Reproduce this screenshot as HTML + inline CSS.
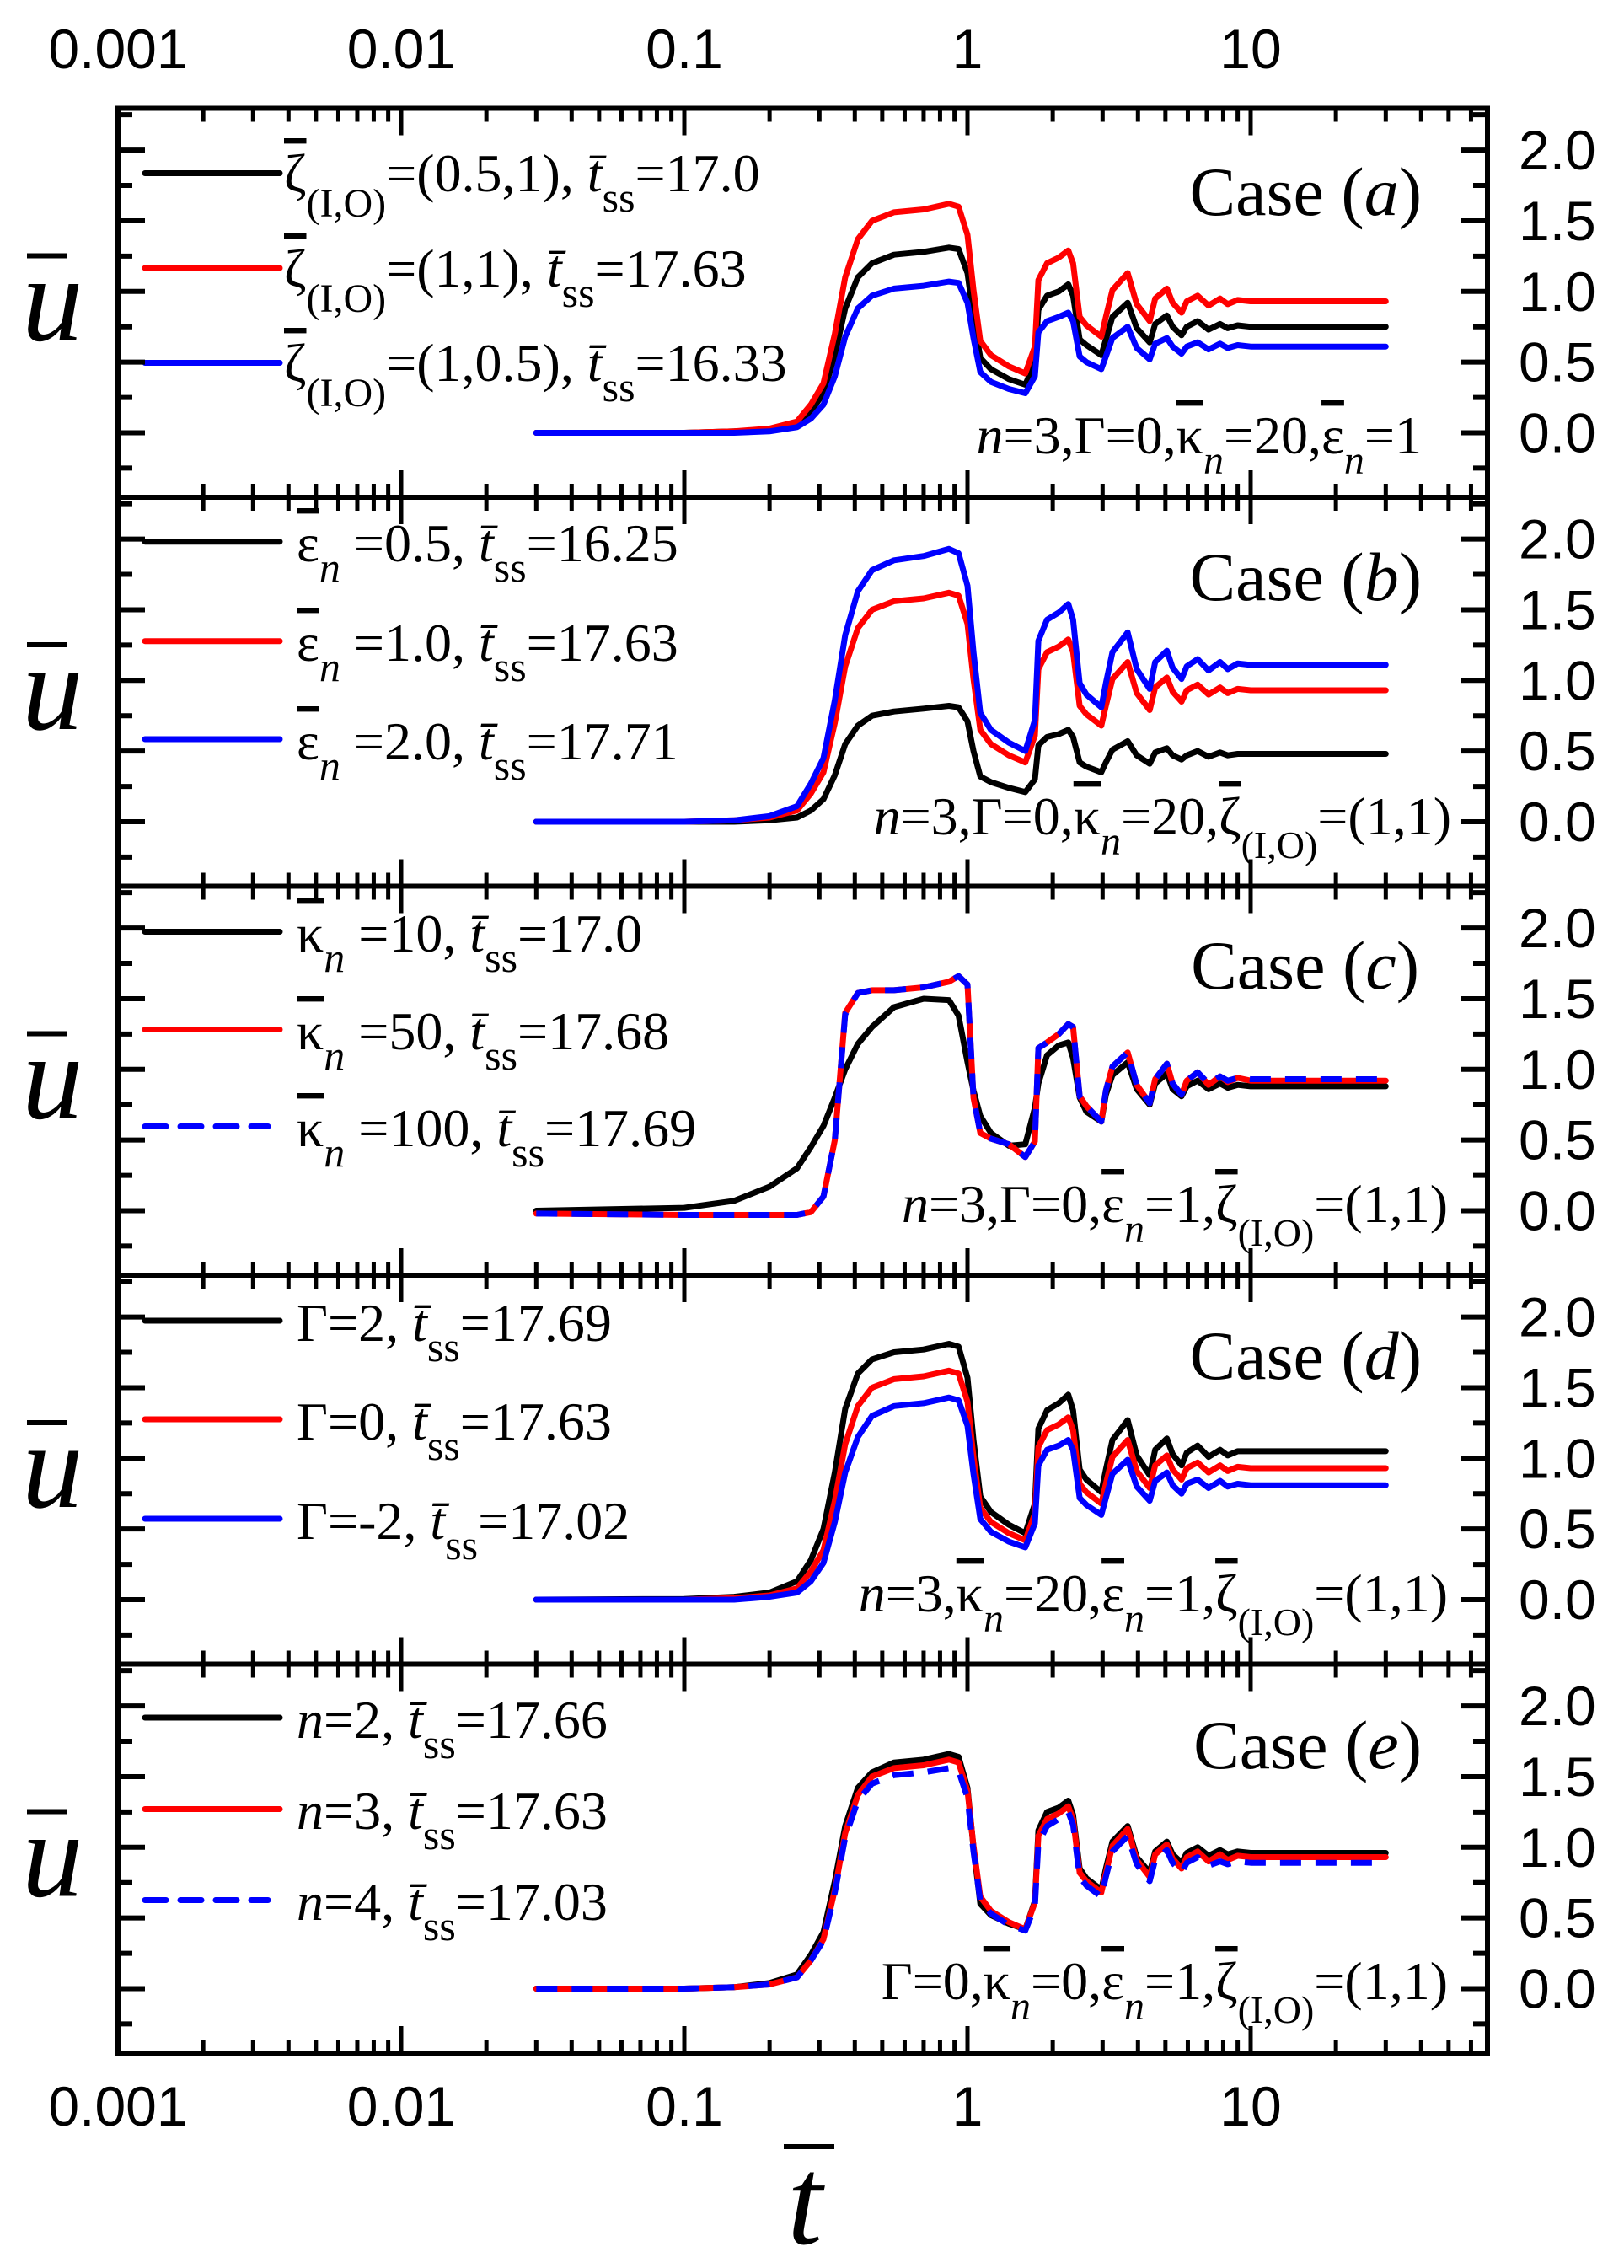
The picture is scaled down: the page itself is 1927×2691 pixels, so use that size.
<!DOCTYPE html>
<html><head><meta charset="utf-8"><style>
html,body{margin:0;padding:0;background:#fff;}
svg{display:block;}
.tk{font-family:"Liberation Sans",sans-serif;font-size:66px;fill:#000;}
.sr{font-family:"Liberation Serif",serif;fill:#000;}
.ob{text-decoration:overline;}
</style></head><body>
<svg id="fig" width="1927" height="2691" viewBox="0 0 1927 2691" xmlns="http://www.w3.org/2000/svg">
<rect width="1927" height="2691" fill="#fff"/>
<g id="marks"></g>

<g class="tk" text-anchor="middle">
<text x="140" y="81">0.001</text><text x="476" y="81">0.01</text><text x="812" y="81">0.1</text><text x="1148" y="81">1</text><text x="1484" y="81">10</text>
</g>
<g class="tk" text-anchor="middle">
<text x="140" y="2522">0.001</text><text x="476" y="2522">0.01</text><text x="812" y="2522">0.1</text><text x="1148" y="2522">1</text><text x="1484" y="2522">10</text>
</g>
<g class="sr">
<rect x="930" y="2544" width="60" height="6" fill="#000"/>
<text x="955" y="2662" font-size="150" font-style="italic" text-anchor="middle">t</text>
</g>

<g class="sr" font-size="64">
<g>
<text x="337" y="227"><tspan class="ob">ζ</tspan><tspan font-size="48" dy="30">(I,O)</tspan><tspan dy="-30">=(0.5,1), </tspan><tspan font-style="italic">t̄</tspan><tspan font-size="50" dy="24">ss</tspan><tspan dy="-24">=17.0</tspan></text>
<text x="337" y="340"><tspan class="ob">ζ</tspan><tspan font-size="48" dy="30">(I,O)</tspan><tspan dy="-30">=(1,1), </tspan><tspan font-style="italic">t̄</tspan><tspan font-size="50" dy="24">ss</tspan><tspan dy="-24">=17.63</tspan></text>
<text x="337" y="452"><tspan class="ob">ζ</tspan><tspan font-size="48" dy="30">(I,O)</tspan><tspan dy="-30">=(1,0.5), </tspan><tspan font-style="italic">t̄</tspan><tspan font-size="50" dy="24">ss</tspan><tspan dy="-24">=16.33</tspan></text>
</g>
<text x="1687" y="255" font-size="82" text-anchor="end">Case (<tspan font-style="italic">a</tspan>)</text>
<text x="1687" y="538" text-anchor="end"><tspan font-style="italic">n</tspan>=3,Γ=0,<tspan class="ob">κ</tspan><tspan font-size="48" dy="24" font-style="italic">n</tspan><tspan dy="-24">=20,</tspan><tspan class="ob">ε</tspan><tspan font-size="48" dy="24" font-style="italic">n</tspan><tspan dy="-24">=1</tspan></text>
<g>
<text x="352" y="666"><tspan class="ob">ε</tspan><tspan font-size="50" dy="24" font-style="italic">n</tspan><tspan dy="-24"> =0.5, </tspan><tspan font-style="italic">t̄</tspan><tspan font-size="50" dy="24">ss</tspan><tspan dy="-24">=16.25</tspan></text>
<text x="352" y="784"><tspan class="ob">ε</tspan><tspan font-size="50" dy="24" font-style="italic">n</tspan><tspan dy="-24"> =1.0, </tspan><tspan font-style="italic">t̄</tspan><tspan font-size="50" dy="24">ss</tspan><tspan dy="-24">=17.63</tspan></text>
<text x="352" y="901"><tspan class="ob">ε</tspan><tspan font-size="50" dy="24" font-style="italic">n</tspan><tspan dy="-24"> =2.0, </tspan><tspan font-style="italic">t̄</tspan><tspan font-size="50" dy="24">ss</tspan><tspan dy="-24">=17.71</tspan></text>
</g>
<text x="1687" y="712" font-size="82" text-anchor="end">Case (<tspan font-style="italic">b</tspan>)</text>
<text x="1722" y="990" text-anchor="end"><tspan font-style="italic">n</tspan>=3,Γ=0,<tspan class="ob">κ</tspan><tspan font-size="48" dy="24" font-style="italic">n</tspan><tspan dy="-24">=20,</tspan><tspan class="ob">ζ</tspan><tspan font-size="46" dy="28">(I,O)</tspan><tspan dy="-28">=(1,1)</tspan></text>
<g>
<text x="352" y="1129"><tspan class="ob">κ</tspan><tspan font-size="50" dy="24" font-style="italic">n</tspan><tspan dy="-24"> =10, </tspan><tspan font-style="italic">t̄</tspan><tspan font-size="50" dy="24">ss</tspan><tspan dy="-24">=17.0</tspan></text>
<text x="352" y="1245"><tspan class="ob">κ</tspan><tspan font-size="50" dy="24" font-style="italic">n</tspan><tspan dy="-24"> =50, </tspan><tspan font-style="italic">t̄</tspan><tspan font-size="50" dy="24">ss</tspan><tspan dy="-24">=17.68</tspan></text>
<text x="352" y="1360"><tspan class="ob">κ</tspan><tspan font-size="50" dy="24" font-style="italic">n</tspan><tspan dy="-24"> =100, </tspan><tspan font-style="italic">t̄</tspan><tspan font-size="50" dy="24">ss</tspan><tspan dy="-24">=17.69</tspan></text>
</g>
<text x="1684" y="1173" font-size="82" text-anchor="end">Case (<tspan font-style="italic">c</tspan>)</text>
<text x="1718" y="1450" text-anchor="end"><tspan font-style="italic">n</tspan>=3,Γ=0,<tspan class="ob">ε</tspan><tspan font-size="48" dy="24" font-style="italic">n</tspan><tspan dy="-24">=1,</tspan><tspan class="ob">ζ</tspan><tspan font-size="46" dy="28">(I,O)</tspan><tspan dy="-28">=(1,1)</tspan></text>
<g>
<text x="352" y="1591">Γ=2, <tspan font-style="italic">t̄</tspan><tspan font-size="50" dy="24">ss</tspan><tspan dy="-24">=17.69</tspan></text>
<text x="352" y="1708">Γ=0, <tspan font-style="italic">t̄</tspan><tspan font-size="50" dy="24">ss</tspan><tspan dy="-24">=17.63</tspan></text>
<text x="352" y="1826">Γ=-2, <tspan font-style="italic">t̄</tspan><tspan font-size="50" dy="24">ss</tspan><tspan dy="-24">=17.02</tspan></text>
</g>
<text x="1687" y="1636" font-size="82" text-anchor="end">Case (<tspan font-style="italic">d</tspan>)</text>
<text x="1718" y="1912" text-anchor="end"><tspan font-style="italic">n</tspan>=3,<tspan class="ob">κ</tspan><tspan font-size="48" dy="24" font-style="italic">n</tspan><tspan dy="-24">=20,</tspan><tspan class="ob">ε</tspan><tspan font-size="48" dy="24" font-style="italic">n</tspan><tspan dy="-24">=1,</tspan><tspan class="ob">ζ</tspan><tspan font-size="46" dy="28">(I,O)</tspan><tspan dy="-28">=(1,1)</tspan></text>
<g>
<text x="352" y="2062"><tspan font-style="italic">n</tspan>=2, <tspan font-style="italic">t̄</tspan><tspan font-size="50" dy="24">ss</tspan><tspan dy="-24">=17.66</tspan></text>
<text x="352" y="2170"><tspan font-style="italic">n</tspan>=3, <tspan font-style="italic">t̄</tspan><tspan font-size="50" dy="24">ss</tspan><tspan dy="-24">=17.63</tspan></text>
<text x="352" y="2278"><tspan font-style="italic">n</tspan>=4, <tspan font-style="italic">t̄</tspan><tspan font-size="50" dy="24">ss</tspan><tspan dy="-24">=17.03</tspan></text>
</g>
<text x="1687" y="2098" font-size="82" text-anchor="end">Case (<tspan font-style="italic">e</tspan>)</text>
<text x="1718" y="2372" text-anchor="end">Γ=0,<tspan class="ob">κ</tspan><tspan font-size="48" dy="24" font-style="italic">n</tspan><tspan dy="-24">=0,</tspan><tspan class="ob">ε</tspan><tspan font-size="48" dy="24" font-style="italic">n</tspan><tspan dy="-24">=1,</tspan><tspan class="ob">ζ</tspan><tspan font-size="46" dy="28">(I,O)</tspan><tspan dy="-28">=(1,1)</tspan></text>
</g>
</svg>
<script>
const T=[0.03,0.1,0.15,0.2,0.25,0.28,0.31,0.34,0.37,0.41,0.46,0.55,0.7,0.86,0.93,1.0,1.05,1.11,1.21,1.4,1.6,1.73,1.78,1.91,2.1,2.27,2.36,2.49,2.63,2.97,3.08,3.25,3.68,3.96,4.4,4.6,5.06,5.3,5.7,5.95,6.5,7.1,7.8,8.3,9.0,10,30];
const R=[0,0,0.01,0.03,0.08,0.2,0.35,0.7,1.1,1.37,1.5,1.56,1.58,1.62,1.6,1.4,1.01,0.65,0.55,0.47,0.42,0.61,1.08,1.2,1.24,1.29,1.2,0.82,0.76,0.68,0.82,1.01,1.13,0.91,0.79,0.95,1.02,0.92,0.85,0.93,0.97,0.9,0.95,0.91,0.94,0.93,0.93];
const a_black=[0,0,0.01,0.02,0.06,0.15,0.28,0.55,0.88,1.1,1.2,1.26,1.28,1.31,1.3,1.13,0.82,0.53,0.45,0.38,0.34,0.5,0.87,0.97,1.0,1.05,0.97,0.66,0.62,0.55,0.66,0.82,0.92,0.74,0.64,0.77,0.83,0.75,0.69,0.75,0.79,0.73,0.77,0.74,0.76,0.75,0.75];
const a_red=R;
const a_blue=[0,0,0,0.01,0.04,0.1,0.2,0.4,0.68,0.88,0.97,1.02,1.04,1.07,1.06,0.92,0.67,0.43,0.36,0.31,0.28,0.4,0.71,0.79,0.82,0.85,0.79,0.54,0.5,0.45,0.54,0.67,0.75,0.6,0.52,0.63,0.67,0.61,0.56,0.61,0.64,0.59,0.63,0.6,0.62,0.61,0.61];
const b_black=[0,0,0,0.01,0.03,0.08,0.16,0.33,0.55,0.68,0.75,0.78,0.8,0.82,0.81,0.71,0.5,0.32,0.28,0.24,0.21,0.3,0.54,0.6,0.62,0.65,0.6,0.42,0.39,0.35,0.42,0.51,0.57,0.47,0.41,0.49,0.52,0.47,0.44,0.47,0.5,0.46,0.49,0.47,0.48,0.48,0.48];
const b_red=R;
const b_blue=[0,0,0.01,0.04,0.11,0.27,0.45,0.86,1.32,1.63,1.78,1.85,1.88,1.93,1.9,1.67,1.2,0.77,0.65,0.56,0.5,0.72,1.28,1.43,1.48,1.54,1.43,0.98,0.9,0.81,0.98,1.2,1.34,1.08,0.94,1.13,1.21,1.09,1.01,1.1,1.15,1.07,1.13,1.08,1.12,1.11,1.11];
const c_black=[0,0.02,0.07,0.17,0.3,0.45,0.6,0.8,1.0,1.18,1.3,1.44,1.5,1.49,1.38,1.05,0.85,0.67,0.55,0.46,0.47,0.73,0.9,1.1,1.17,1.19,1.08,0.8,0.7,0.63,0.82,0.96,1.05,0.86,0.75,0.9,0.97,0.86,0.81,0.88,0.92,0.86,0.9,0.87,0.89,0.88,0.88];
const c_red=[-0.02,-0.03,-0.03,-0.03,-0.03,-0.01,0.1,0.5,1.4,1.54,1.56,1.56,1.58,1.62,1.66,1.6,0.8,0.55,0.51,0.47,0.38,0.49,1.15,1.19,1.25,1.32,1.3,0.81,0.74,0.63,0.85,1.02,1.12,0.89,0.76,0.93,1.04,0.9,0.82,0.92,0.98,0.89,0.95,0.91,0.94,0.92,0.92];
const c_blue=[-0.02,-0.03,-0.03,-0.03,-0.03,-0.01,0.1,0.5,1.39,1.54,1.56,1.56,1.58,1.62,1.66,1.6,0.8,0.55,0.51,0.47,0.38,0.49,1.15,1.19,1.25,1.32,1.3,0.81,0.74,0.63,0.85,1.02,1.12,0.89,0.76,0.93,1.04,0.9,0.82,0.92,0.98,0.9,0.95,0.92,0.94,0.93,0.93];
const d_black=[0,0.005,0.02,0.05,0.13,0.28,0.5,0.9,1.35,1.6,1.7,1.75,1.77,1.81,1.79,1.57,1.13,0.73,0.62,0.53,0.47,0.68,1.21,1.34,1.39,1.45,1.34,0.92,0.85,0.76,0.92,1.13,1.27,1.02,0.88,1.06,1.14,1.03,0.95,1.04,1.09,1.01,1.06,1.02,1.05,1.05,1.05];
const d_red=R;
const d_blue=[0,0,0,0.02,0.05,0.13,0.26,0.55,0.9,1.15,1.3,1.37,1.39,1.43,1.41,1.23,0.89,0.57,0.48,0.41,0.37,0.54,0.95,1.06,1.09,1.13,1.06,0.72,0.67,0.6,0.72,0.89,0.99,0.8,0.7,0.84,0.9,0.81,0.75,0.82,0.85,0.79,0.84,0.8,0.82,0.81,0.81];
const e_black=[0,0,0.01,0.04,0.1,0.24,0.4,0.76,1.15,1.42,1.53,1.6,1.62,1.66,1.64,1.42,1.0,0.6,0.52,0.46,0.42,0.62,1.12,1.25,1.28,1.33,1.23,0.85,0.78,0.7,0.85,1.04,1.15,0.93,0.82,0.97,1.04,0.95,0.89,0.96,1.0,0.94,0.98,0.95,0.97,0.96,0.96];
const e_red=R;
const e_blue=[0,0,0.01,0.03,0.08,0.2,0.34,0.68,1.07,1.33,1.45,1.51,1.53,1.56,1.54,1.35,0.97,0.62,0.53,0.45,0.41,0.58,1.03,1.15,1.2,1.25,1.16,0.79,0.73,0.65,0.79,0.97,1.08,0.88,0.76,0.91,0.98,0.89,0.82,0.89,0.93,0.87,0.9,0.88,0.9,0.89,0.89];
const yTickLabels=["0.0","0.5","1.0","1.5","2.0"];
const yTickValues=[0,0.5,1.0,1.5,2.0];

const NS="http://www.w3.org/2000/svg";
const L=140,Rx=1765,PH=461.5,TOPS=[128.5,590,1051.5,1513,1974.5],ZOFF=385,YS=167.7;
function X(t){return L+(Math.log10(t)+3)*336;}
function Y(p,u){return TOPS[p]+ZOFF-u*YS;}
const g=document.getElementById('marks');
function mk(tag,at,parent){const e=document.createElementNS(NS,tag);for(const k in at)e.setAttribute(k,at[k]);(parent||g).appendChild(e);return e;}
const panels=[
 {id:'a',s:[['black',a_black,'#000',null],['red',a_red,'#f00',null],['blue',a_blue,'#00f',null]],leg:[77,189.5,302]},
 {id:'b',s:[['black',b_black,'#000',null],['red',b_red,'#f00',null],['blue',b_blue,'#00f',null]],leg:[52.7,170.7,287]},
 {id:'c',s:[['black',c_black,'#000',null],['red',c_red,'#f00',null],['blue',c_blue,'#00f','25 17']],leg:[54,170,285]},
 {id:'d',s:[['black',d_black,'#000',null],['red',d_red,'#f00',null],['blue',d_blue,'#00f',null]],leg:[54,171,289]},
 {id:'e',s:[['black',e_black,'#000',null],['red',e_red,'#f00',null],['blue',e_blue,'#00f','25 17']],leg:[63.5,172,280]}
];
panels.forEach((P,p)=>{
  const top=TOPS[p],bot=top+PH;
  const pg=mk('g',{});
  
  
  P.s.forEach(([nm,vals,col,dash])=>{
    const d=T.map((t,i)=>(i?'L':'M')+X(t).toFixed(1)+' '+Y(p,vals[i]).toFixed(1)).join(' ');
    const path=mk('path',{d:d,fill:'none',stroke:col,'stroke-width':7,'stroke-linejoin':'round','stroke-linecap':dash?'butt':'round'},pg);
    if(dash)path.setAttribute('stroke-dasharray',dash);
    
    
  });
  P.s.forEach(([nm,vals,col,dash],k)=>{
    const ly=top+P.leg[k];
    const ln=mk('line',{x1:172,x2:dash?318:332,y1:ly,y2:ly,stroke:col,'stroke-width':7,'stroke-linecap':'round'},pg);
    if(dash)ln.setAttribute('stroke-dasharray','25 17');
    
    
  });
  const fr=mk('rect',{x:L,y:top,width:Rx-L,height:PH,fill:'none',stroke:'#000','stroke-width':6},pg);
  
  
  for(let v=-0.25;v<=2.26;v+=0.25){
    const y=Y(p,v);if(y<top+3||y>bot-3)continue;
    const maj=Math.abs(v*2-Math.round(v*2))<1e-6;const len=maj?32:17;
    mk('line',{x1:L,x2:L+len,y1:y,y2:y,stroke:'#000','stroke-width':6},pg);
    mk('line',{x1:Rx,x2:Rx-len,y1:y,y2:y,stroke:'#000','stroke-width':6},pg);
  }
  for(let dcd=-3;dcd<=1;dcd++){
    for(let k=1;k<=9;k++){
      const t=k*Math.pow(10,dcd);const x=X(t);if(x>Rx-3)continue;
      const len=k===1?32:16;
      mk('line',{x1:x,x2:x,y1:top,y2:top+len,stroke:'#000','stroke-width':5},pg);
      mk('line',{x1:x,x2:x,y1:bot,y2:bot-len,stroke:'#000','stroke-width':5},pg);
    }
  }
  yTickValues.forEach((v,i)=>{
    const tx=mk('text',{x:1802,y:Y(p,v)+23,'class':'tk','font-size':64},pg);
    tx.textContent=yTickLabels[i];
    
    
  });
  const yb=mk('rect',{x:32,y:top+172,width:48,height:6,fill:'#000'},pg);
  
  
  const yt=mk('text',{x:26,y:top+275,'class':'sr','font-size':145,'font-style':'italic'},pg);
  yt.textContent='u';
  
  
});
</script>
</body></html>
